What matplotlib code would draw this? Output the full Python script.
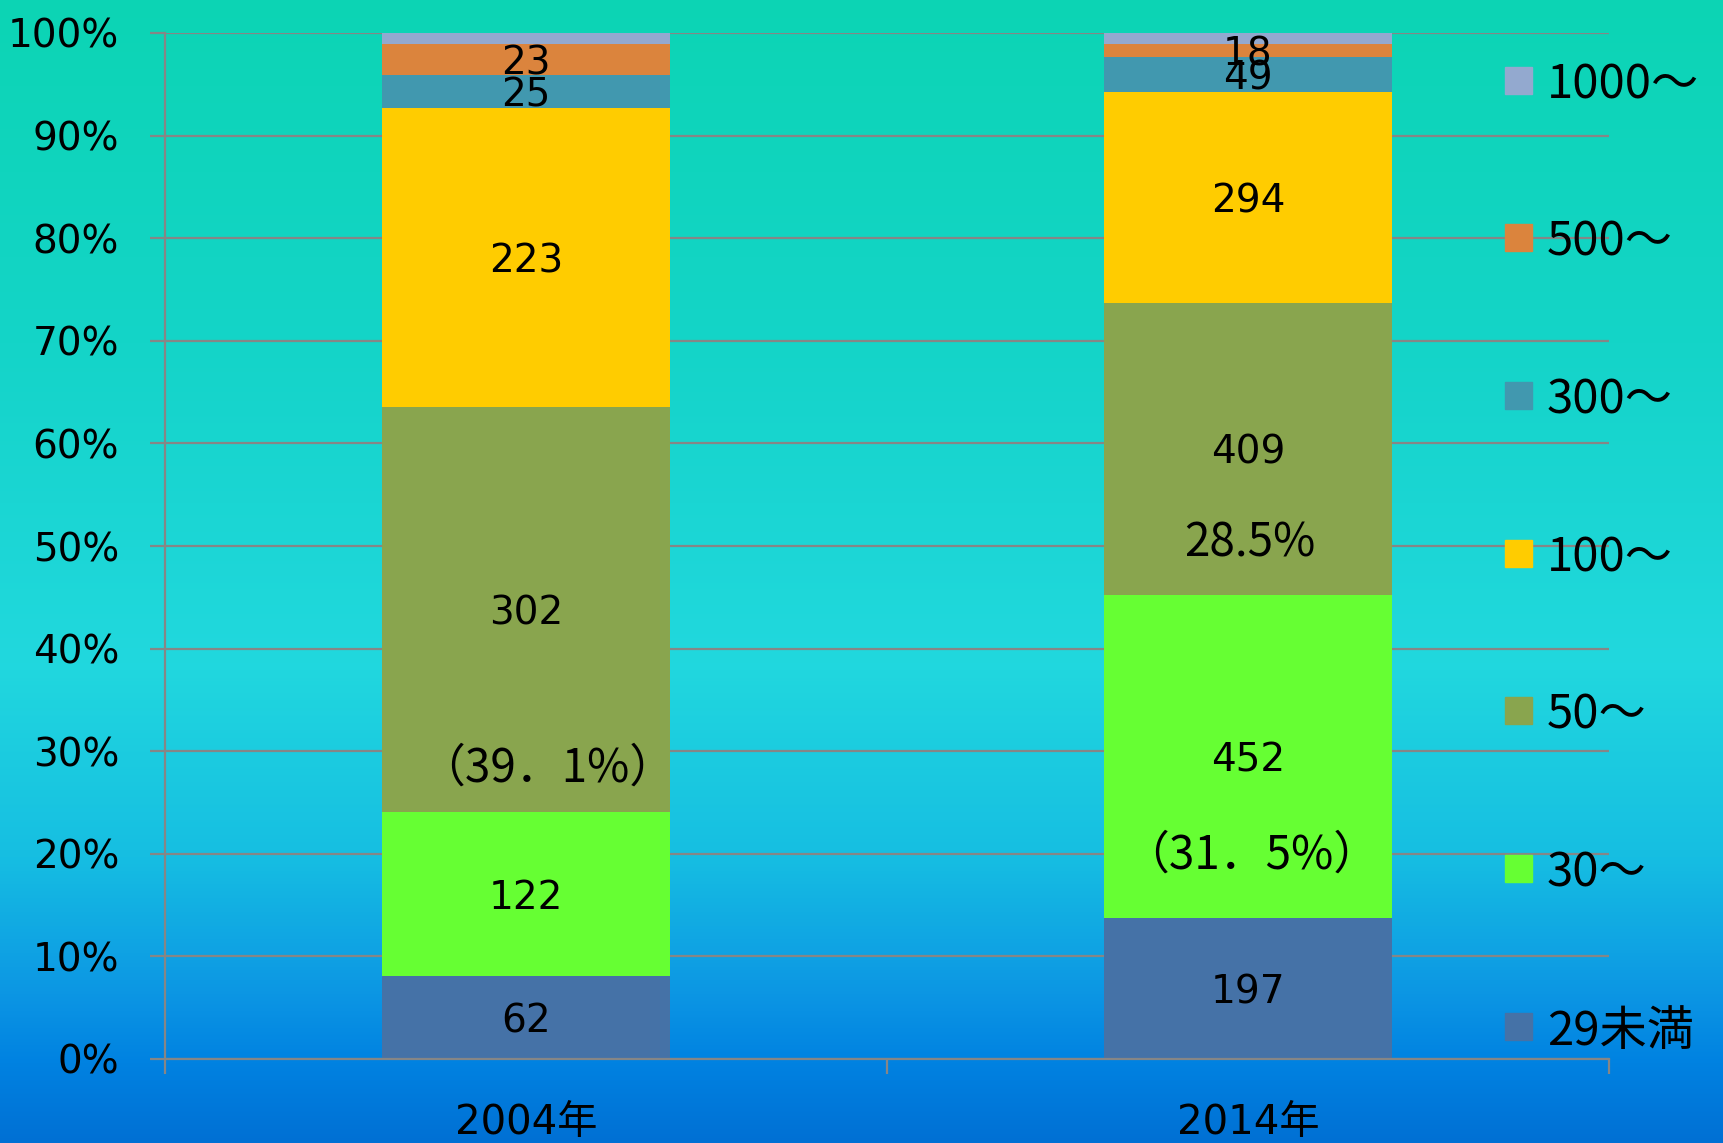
import numpy as np
import matplotlib
matplotlib.use('Agg')
import matplotlib.pyplot as plt
from matplotlib.patches import Rectangle
from matplotlib import font_manager

years = ['2004年', '2014年']
groups = ['29未満', '30～', '50～', '100～', '300～', '500～', '1000～']
counts_2004 = [62, 122, 302, 223, 25, 23, 8]
counts_2014 = [197, 452, 409, 294, 49, 18, 16]
colors = ['#4572A7', '#66FF33', '#89A54E', '#FFCC00', '#4198AF', '#DB843D', '#93A9CF']
# which segment gets its count written (1000～ has none)
show_label = [True, True, True, True, True, True, False]
# extra percentage notes: (bar index, text, y in %, x offset)
notes = [(0, '（39．1%）', 28.9, 0.03), (1, '28.5%', 50.8, 0.003), (1, '（31．5%）', 20.4, 0.005)]

installed = {f.name for f in font_manager.fontManager.ttflist}
narrow = [f for f in ['Liberation Sans Narrow', 'DejaVu Sans Condensed', 'DejaVu Sans'] if f in installed]
narrow = [narrow[0], 'Noto Sans CJK JP']
gothic = ['Noto Sans CJK JP', 'DejaVu Sans']

fig = plt.figure(figsize=(17.24, 11.43), dpi=100)

# background gradient
stops = [0.0, 0.30, 0.58, 0.75, 0.87, 0.93, 1.0]
rgb = np.array([[12, 212, 180], [20, 212, 200], [33, 216, 222], [22, 190, 226],
                [12, 150, 228], [0, 130, 225], [0, 112, 212]]) / 255.0
rows = np.linspace(0, 1, 1143)
grad = np.stack([np.interp(rows, stops, rgb[:, i]) for i in range(3)], axis=1)
grad = np.repeat(grad[:, None, :], 4, axis=1)
bg = fig.add_axes([0, 0, 1, 1], zorder=0)
bg.imshow(grad, aspect='auto', extent=[0, 1, 0, 1])
bg.axis('off')

ax = fig.add_axes([165 / 1724, 84 / 1143, 1444 / 1724, 1026 / 1143], zorder=1)
ax.patch.set_alpha(0)

data = np.array([counts_2004, counts_2014], dtype=float)
shares = data / data.sum(axis=1, keepdims=True) * 100
x = np.arange(len(years))
bottom = np.zeros(len(years))
for i, g in enumerate(groups):
    ax.bar(x, shares[:, i], bottom=bottom, width=0.4, color=colors[i], zorder=2)
    if show_label[i]:
        for j in range(len(years)):
            ax.text(x[j], bottom[j] + shares[j, i] / 2, str(int(data[j, i])),
                    ha='center', va='center_baseline', fontsize=28, family=narrow, zorder=3)
    bottom += shares[:, i]

for j, txt, yy, dx in notes:
    ax.text(x[j] + dx, yy, txt, ha='center', va='center_baseline', fontsize=33,
            family=gothic, zorder=3)

ax.set_xlim(-0.5, 1.5)
ax.set_ylim(0, 100)
ax.set_yticks(np.arange(0, 101, 10))
ax.set_yticklabels([f'{v}%' for v in range(0, 101, 10)], family=narrow, fontsize=28)
ax.yaxis.grid(True, color='#868686', lw=1.6)
ax.set_axisbelow(True)
ax.tick_params(axis='y', length=11, width=1.6, color='#868686', pad=22)

ax.set_xticks(x)
ax.set_xticklabels(years, family=narrow, fontsize=29)
ax.tick_params(axis='x', which='major', length=0, pad=32)
ax.set_xticks([-0.5, 0.5, 1.5], minor=True)
ax.tick_params(axis='x', which='minor', length=11, width=1.6, color='#868686')

for s in ['top', 'right']:
    ax.spines[s].set_visible(False)
for s in ['left', 'bottom']:
    ax.spines[s].set_color('#868686')
    ax.spines[s].set_linewidth(1.6)

# legend, top to bottom
leg_y = [80, 237, 395, 553, 710, 868, 1026]
for k, i in enumerate(range(len(groups) - 1, -1, -1)):
    yc = leg_y[k]
    fig.add_artist(Rectangle((1505 / 1724, 1 - (yc + 13.5) / 1143), 27 / 1724, 27 / 1143,
                             transform=fig.transFigure, color=colors[i], zorder=3))
    fig.text(1547 / 1724, 1 - yc / 1143, groups[i], ha='left', va='center_baseline',
             fontsize=34, family=gothic, zorder=3)

plt.savefig('out.png', dpi=100)
